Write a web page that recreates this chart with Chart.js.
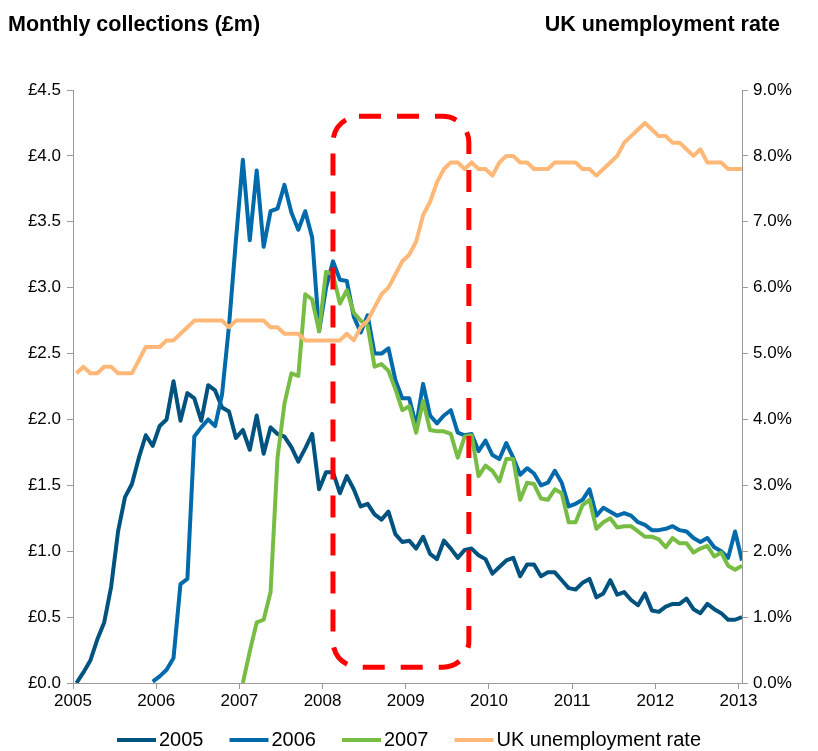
<!DOCTYPE html>
<html>
<head>
<meta charset="utf-8">
<script src="https://cdn.jsdelivr.net/npm/chart.js@4.4.1/dist/chart.umd.min.js"></script>
<style>
  html, body { margin: 0; padding: 0; background: #fff; }
  #wrap { position: relative; width: 818px; height: 751px; }
  canvas { position: absolute; left: 0; top: 0; }
  .hdr { position: absolute; top: 12px; font: bold 21.5px "Liberation Sans", Arial, sans-serif; color: #000; white-space: nowrap; }
  #hdrLeft { left: 8px; }
  #hdrRight { right: 38px; }
</style>
</head>
<body>
<div id="wrap">
  <canvas id="chart" width="818" height="751"></canvas>
  <div class="hdr" id="hdrLeft">Monthly collections (£m)</div>
  <div class="hdr" id="hdrRight">UK unemployment rate</div>
</div>
<script>
// Year labels for the time axis (one tick every 12 months from Jan 2005)
const yearLabels = ['2005', '2006', '2007', '2008', '2009', '2010', '2011', '2012', '2013'];
const collectionTickLabels = ['£0.0', '£0.5', '£1.0', '£1.5', '£2.0', '£2.5', '£3.0', '£3.5', '£4.0', '£4.5'];
const rateTickLabels = ['0.0%', '1.0%', '2.0%', '3.0%', '4.0%', '5.0%', '6.0%', '7.0%', '8.0%', '9.0%'];

// Monthly collections (£m) by cohort; each cohort starts at its first month (months counted from Jan 2005)
const start2005 = 0;
const collections2005 = [
  0.00, 0.08, 0.17, 0.33, 0.46, 0.73, 1.15, 1.41, 1.51, 1.71, 1.88, 1.80,
  1.95, 2.00, 2.29, 1.99, 2.20, 2.16, 1.99, 2.26, 2.22, 2.09, 2.06, 1.86,
  1.92, 1.77, 2.03, 1.74, 1.94, 1.89, 1.87, 1.79, 1.68, 1.78, 1.89, 1.47,
  1.60, 1.60, 1.44, 1.57, 1.47, 1.34, 1.36, 1.28, 1.24, 1.30, 1.13, 1.07,
  1.08, 1.02, 1.11, 0.98, 0.94, 1.08, 1.02, 0.95, 1.01, 1.02, 0.97, 0.94,
  0.83, 0.88, 0.93, 0.95, 0.81, 0.90, 0.90, 0.81, 0.84, 0.84, 0.78, 0.72,
  0.71, 0.76, 0.79, 0.65, 0.68, 0.78, 0.67, 0.69, 0.63, 0.59, 0.68, 0.55,
  0.54, 0.58, 0.60, 0.60, 0.64, 0.56, 0.53, 0.60, 0.56, 0.53, 0.48, 0.48,
  0.50
];

const start2006 = 11;
const collections2006 = [
                                                                    0.01,
  0.05, 0.10, 0.19, 0.75, 0.79, 1.87, 1.94, 2.00, 1.95, 2.19, 2.71, 3.36,
  3.97, 3.36, 3.89, 3.31, 3.58, 3.60, 3.78, 3.57, 3.44, 3.58, 3.38, 2.67,
  3.00, 3.20, 3.06, 3.05, 2.78, 2.66, 2.79, 2.50, 2.50, 2.54, 2.30, 2.16,
  2.16, 1.95, 2.27, 2.03, 1.97, 2.03, 2.07, 1.90, 1.88, 1.89, 1.76, 1.84,
  1.73, 1.70, 1.82, 1.71, 1.58, 1.63, 1.59, 1.50, 1.52, 1.61, 1.52, 1.34,
  1.36, 1.39, 1.47, 1.27, 1.33, 1.30, 1.27, 1.29, 1.27, 1.22, 1.20, 1.16,
  1.16, 1.17, 1.19, 1.16, 1.15, 1.10, 1.07, 1.10, 1.03, 1.00, 0.95, 1.15,
  0.93
];

const start2007 = 24;
const collections2007 = [
  0.00, 0.24, 0.46, 0.48, 0.69, 1.71, 2.12, 2.35, 2.33, 2.95, 2.91, 2.67,
  3.12, 3.10, 2.88, 2.98, 2.81, 2.75, 2.71, 2.40, 2.42, 2.37, 2.23, 2.07,
  2.10, 1.90, 2.14, 1.92, 1.91, 1.91, 1.89, 1.71, 1.87, 1.88, 1.57, 1.65,
  1.61, 1.53, 1.70, 1.70, 1.39, 1.52, 1.51, 1.40, 1.39, 1.47, 1.44, 1.22,
  1.22, 1.35, 1.39, 1.17, 1.22, 1.25, 1.18, 1.19, 1.19, 1.15, 1.11, 1.11,
  1.09, 1.03, 1.10, 1.06, 1.06, 0.99, 1.02, 1.04, 0.96, 0.99, 0.89, 0.86,
  0.89
];

// UK unemployment rate (%), Jan 2005 onwards
const startRate = 0;
const unemploymentRate = [
  4.7, 4.8, 4.7, 4.7, 4.8, 4.8, 4.7, 4.7, 4.7, 4.9, 5.1, 5.1,
  5.1, 5.2, 5.2, 5.3, 5.4, 5.5, 5.5, 5.5, 5.5, 5.5, 5.4, 5.5,
  5.5, 5.5, 5.5, 5.5, 5.4, 5.4, 5.3, 5.3, 5.3, 5.2, 5.2, 5.2,
  5.2, 5.2, 5.2, 5.3, 5.2, 5.4, 5.5, 5.7, 5.9, 6.0, 6.2, 6.4,
  6.5, 6.7, 7.1, 7.3, 7.6, 7.8, 7.9, 7.9, 7.8, 7.9, 7.8, 7.8,
  7.7, 7.9, 8.0, 8.0, 7.9, 7.9, 7.8, 7.8, 7.8, 7.9, 7.9, 7.9,
  7.9, 7.8, 7.8, 7.7, 7.8, 7.9, 8.0, 8.2, 8.3, 8.4, 8.5, 8.4,
  8.3, 8.3, 8.2, 8.2, 8.1, 8.0, 8.1, 7.9, 7.9, 7.9, 7.8, 7.8,
  7.8
];

// Highlighted period (months from Jan 2005, £m)
const highlightMonths = [37.5, 57.1];
const highlightValues = [0.12, 4.30];

const FONT = '"Liberation Sans", Arial, sans-serif';
const AXIS_GREY = '#9a9a9a';
const KEY_BOX = 32;      // legend key box width
const KEY_LINE = 39;     // visible key line length

// monthly values are plotted at mid-month
const monthly = (start, values) => values.map((v, i) => ({ x: start + i + 0.5, y: v }));

// legend key: a thick line starting at the left edge of the key box
function legendKey(color) {
  const c = document.createElement('canvas');
  c.width = KEY_LINE * 2;
  c.height = 4;
  const g = c.getContext('2d');
  g.fillStyle = color;
  g.fillRect(KEY_LINE - KEY_BOX / 2, 0, KEY_LINE, 4);
  return c;
}

const highlightPlugin = {
  id: 'highlightBox',
  afterDatasetsDraw(chart) {
    const { ctx, scales } = chart;
    const left = scales.x.getPixelForValue(highlightMonths[0]);
    const right = scales.x.getPixelForValue(highlightMonths[1]);
    const top = scales.y.getPixelForValue(highlightValues[1]);
    const bottom = scales.y.getPixelForValue(highlightValues[0]);
    ctx.save();
    ctx.strokeStyle = '#ff0000';
    ctx.lineWidth = 5;
    ctx.setLineDash([22, 16]);
    ctx.beginPath();
    ctx.roundRect(left, top, right - left, bottom - top, 26);
    ctx.stroke();
    ctx.restore();
  }
};

// keep the legend row a fixed distance below the plot
const legendRowPlugin = {
  id: 'legendRow',
  afterLayout(chart) {
    const lg = chart.legend;
    const shift = (chart.chartArea.bottom + 21) - lg.top;
    lg.top += shift;
    lg.bottom += shift;
  }
};

const lineStyle = { borderWidth: 4, pointRadius: 0, tension: 0, borderJoinStyle: 'round', fill: false };

new Chart(document.getElementById('chart'), {
  type: 'line',
  data: {
    datasets: [
      { label: '2005', data: monthly(start2005, collections2005), borderColor: '#00527f', backgroundColor: '#00527f', yAxisID: 'y', order: 4, ...lineStyle },
      { label: '2006', data: monthly(start2006, collections2006), borderColor: '#006aab', backgroundColor: '#006aab', yAxisID: 'y', order: 3, ...lineStyle },
      { label: '2007', data: monthly(start2007, collections2007), borderColor: '#77bd43', backgroundColor: '#77bd43', yAxisID: 'y', order: 2, ...lineStyle },
      { label: 'UK unemployment rate', data: monthly(startRate, unemploymentRate), borderColor: '#ffb877', backgroundColor: '#ffb877', yAxisID: 'y1', order: 1, ...lineStyle }
    ]
  },
  options: {
    responsive: false,
    animation: false,
    devicePixelRatio: 1,
    layout: { padding: { top: 90, left: 0, right: 0, bottom: -18 } },
    plugins: {
      tooltip: { enabled: false },
      legend: {
        position: 'bottom',
        labels: {
          usePointStyle: true,
          pointStyleWidth: KEY_BOX,
          color: '#000',
          font: { family: FONT, size: 20 },
          padding: 26,
          sort: (a, b) => a.datasetIndex - b.datasetIndex,
          generateLabels: (chart) => Chart.defaults.plugins.legend.labels.generateLabels(chart)
            .map((item) => ({ ...item, pointStyle: legendKey(item.strokeStyle) }))
        }
      }
    },
    scales: {
      x: {
        type: 'linear',
        min: 0,
        max: 96.5,
        afterBuildTicks: (s) => { s.ticks = yearLabels.map((_, i) => ({ value: i * 12 })); },
        afterFit: (s) => { s.height = 30; },
        ticks: {
          callback: (v) => yearLabels[Math.round(v / 12)],
          color: '#000', font: { family: FONT, size: 17 }, maxRotation: 0, autoSkip: false, padding: 2
        },
        grid: { drawOnChartArea: false, drawTicks: true, tickLength: 6, color: AXIS_GREY },
        border: { color: AXIS_GREY, width: 1 }
      },
      y: {
        position: 'left',
        min: 0,
        max: 4.5,
        afterFit: (s) => { s.width = 73; },
        ticks: {
          stepSize: 0.5,
          callback: (v, i) => collectionTickLabels[i],
          color: '#000', font: { family: FONT, size: 17 }, padding: 6
        },
        grid: { drawOnChartArea: false, drawTicks: true, tickLength: 6, color: AXIS_GREY },
        border: { color: AXIS_GREY, width: 1 }
      },
      y1: {
        position: 'right',
        min: 0,
        max: 9,
        afterFit: (s) => { s.width = 76; },
        ticks: {
          stepSize: 1,
          callback: (v, i) => rateTickLabels[i],
          color: '#000', font: { family: FONT, size: 17 }, padding: 5
        },
        grid: { drawOnChartArea: false, drawTicks: true, tickLength: 6, color: AXIS_GREY },
        border: { color: AXIS_GREY, width: 1 }
      }
    }
  },
  plugins: [highlightPlugin, legendRowPlugin]
});
</script>
</body>
</html>
